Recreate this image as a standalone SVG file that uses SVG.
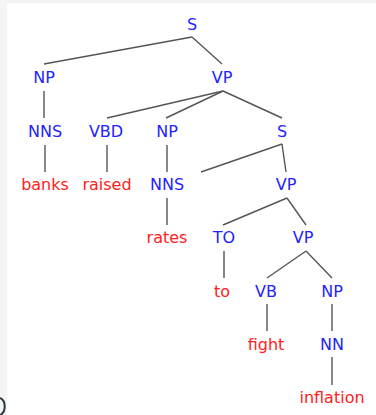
<svg xmlns="http://www.w3.org/2000/svg" width="376" height="415" viewBox="0 0 376 415">
<style>
.cat{font-family:"DejaVu Sans",sans-serif;font-size:16px;fill:#2222ff;text-anchor:middle}
.word{font-family:"DejaVu Sans",sans-serif;font-size:16px;fill:#ff2020;text-anchor:middle}
.edges line{stroke:#555;stroke-width:1.4}
</style>
<rect x="0" y="0" width="376" height="415" fill="#ffffff"/>
<rect x="0" y="0" width="376" height="3" fill="#f4f4f4"/>
<rect x="0" y="0" width="7" height="415" fill="#f4f4f4"/>
<path d="M 0 398 A 7 9 0 0 1 0 415" fill="none" stroke="#2a3a40" stroke-width="2"/>
<g class="edges" id="connectors">
<line x1="192" y1="37" x2="44" y2="64"/>
<line x1="192" y1="37" x2="222" y2="64"/>
<line x1="44" y1="91" x2="44" y2="118"/>
<line x1="223" y1="91" x2="107" y2="118"/>
<line x1="223" y1="91" x2="166" y2="118"/>
<line x1="223" y1="91" x2="282" y2="118"/>
<line x1="45" y1="145" x2="45" y2="172"/>
<line x1="107" y1="145" x2="107" y2="172"/>
<line x1="167" y1="145" x2="167" y2="172"/>
<line x1="282" y1="144" x2="201" y2="172"/>
<line x1="282" y1="144" x2="286" y2="172"/>
<line x1="167" y1="198" x2="167" y2="225"/>
<line x1="287" y1="198" x2="223" y2="225"/>
<line x1="287" y1="198" x2="306" y2="225"/>
<line x1="224" y1="251" x2="224" y2="278"/>
<line x1="306" y1="251" x2="267" y2="278"/>
<line x1="306" y1="251" x2="332" y2="278"/>
<line x1="267" y1="304" x2="267" y2="331"/>
<line x1="332" y1="304" x2="332" y2="331"/>
<line x1="332" y1="357" x2="332" y2="385"/>
</g>
<g id="n-S"><text class="cat" x="192" y="30">S</text></g>
<g id="n-NP1"><text class="cat" x="44" y="83">NP</text></g>
<g id="n-VP1"><text class="cat" x="222" y="83">VP</text></g>
<g id="n-NNS1"><text class="cat" x="45" y="137">NNS</text></g>
<g id="n-VBD"><text class="cat" x="106" y="137">VBD</text></g>
<g id="n-NP2"><text class="cat" x="167" y="137">NP</text></g>
<g id="n-S2"><text class="cat" x="282" y="137">S</text></g>
<g id="w-banks"><text class="word" x="45" y="190">banks</text></g>
<g id="w-raised"><text class="word" x="107" y="190">raised</text></g>
<g id="n-NNS2"><text class="cat" x="167" y="190">NNS</text></g>
<g id="n-VP2"><text class="cat" x="286" y="190">VP</text></g>
<g id="w-rates"><text class="word" x="167" y="243">rates</text></g>
<g id="n-TO"><text class="cat" x="224" y="243">TO</text></g>
<g id="n-VP3"><text class="cat" x="303" y="243">VP</text></g>
<g id="w-to"><text class="word" x="222" y="297">to</text></g>
<g id="n-VB"><text class="cat" x="266" y="297">VB</text></g>
<g id="n-NP3"><text class="cat" x="332" y="297">NP</text></g>
<g id="w-fight"><text class="word" x="266" y="350">fight</text></g>
<g id="n-NN"><text class="cat" x="332" y="350">NN</text></g>
<g id="w-inflation"><text class="word" x="332" y="403">inflation</text></g>
</svg>
